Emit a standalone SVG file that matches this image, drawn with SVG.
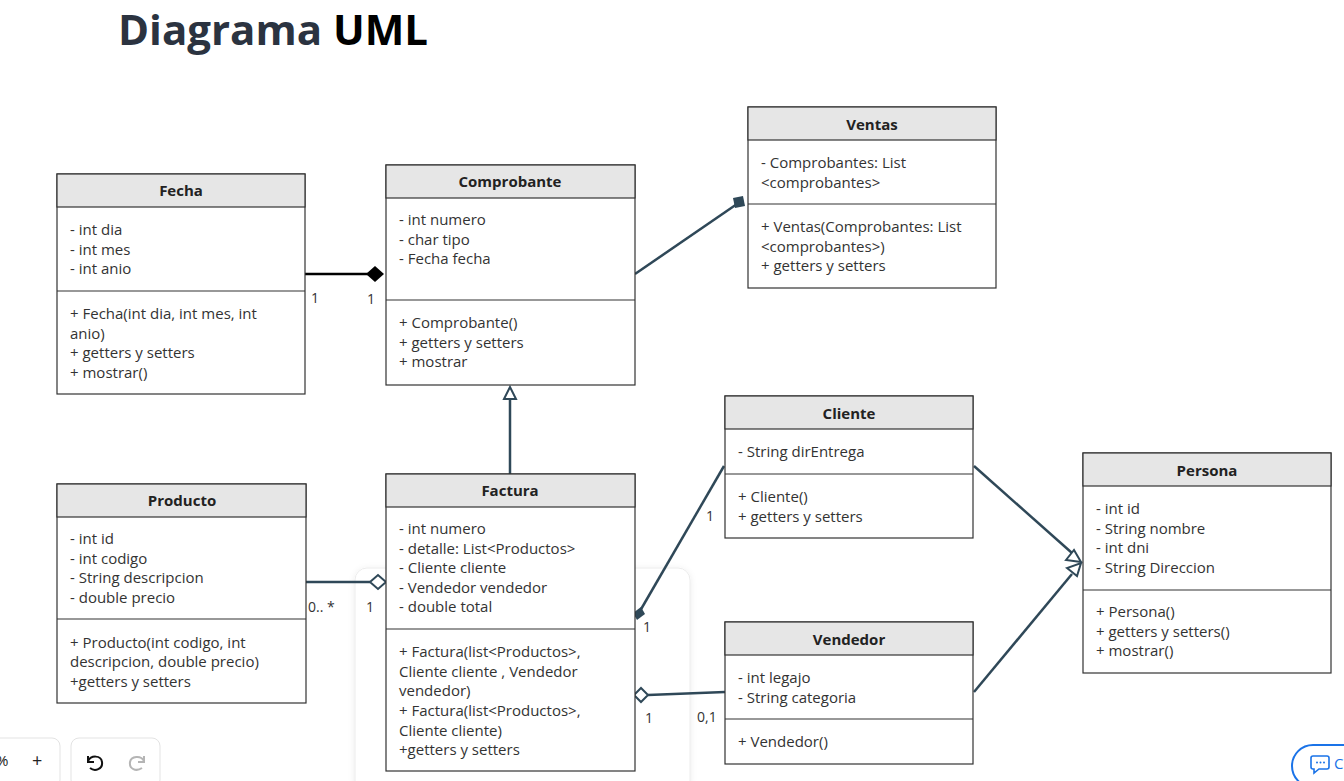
<svg xmlns="http://www.w3.org/2000/svg" width="1344" height="781" viewBox="0 0 1344 781">
<defs>
<style>
.box{fill:#fff;stroke:#333;stroke-width:1.2}
.hdr{fill:#e6e6e6;stroke:#333;stroke-width:1.2}
.ttl{font-family:"Open Sans",sans-serif;font-weight:bold;font-size:15px;fill:#222;text-anchor:middle}
.t{font-family:"Open Sans",sans-serif;font-size:15px;fill:#333}
.lbl{font-family:"Open Sans",sans-serif;font-size:14px;fill:#333}
.c{stroke:#2f4858;stroke-width:2.5;fill:none}
.ui{fill:#fff;stroke:#e3e3e3;stroke-width:1}
</style>
<filter id="sh" x="-10%" y="-10%" width="120%" height="120%">
<feDropShadow dx="0" dy="1" stdDeviation="3" flood-color="#000" flood-opacity="0.08"/>
</filter>
</defs>
<rect width="1344" height="781" fill="#fff"/>
<text x="118" y="45" font-family="'Open Sans',sans-serif" font-weight="bold" font-size="42" fill="#2b3340">Diagrama <tspan fill="#000">UML</tspan></text>

<rect x="355" y="568" width="335" height="225" rx="12" fill="#fff" stroke="#ececec" filter="url(#sh)"/>

<g id="connectors">
<line x1="305" y1="274" x2="368" y2="274" stroke="#000" stroke-width="2.5"/>
<polygon points="366,274 375,266 384,274 375,282" fill="#000"/>
<text class="lbl" x="311" y="303">1</text>
<text class="lbl" x="367" y="304">1</text>

<line class="c" x1="635" y1="274" x2="737" y2="204"/>
<polygon points="733,198 743,196 745,206 735,208" fill="#2f4858"/>

<line class="c" x1="510" y1="474" x2="510" y2="399"/>
<polygon points="504,399 510,387 516,399" fill="#fff" stroke="#2f4858" stroke-width="2"/>

<line class="c" x1="306" y1="582" x2="370" y2="582"/>
<polygon points="370,582 378,575 386,582 378,589" fill="#fff" stroke="#2f4858" stroke-width="2"/>
<text class="lbl" x="308" y="612">0.. *</text>
<text class="lbl" x="366" y="612">1</text>

<line class="c" x1="724" y1="466" x2="640" y2="611"/>
<polygon points="633,613 641,607 645,614 637,620" fill="#2f4858"/>
<text class="lbl" x="706" y="521">1</text>
<text class="lbl" x="643" y="632">1</text>

<line class="c" x1="648" y1="695" x2="725" y2="692"/>
<polygon points="634,695 641,688 648,695 641,702" fill="#fff" stroke="#2f4858" stroke-width="2"/>
<text class="lbl" x="645" y="723">1</text>
<text class="lbl" x="697" y="722">0,1</text>

<line class="c" x1="974" y1="466" x2="1072" y2="553"/>
<polygon points="1066,560 1074,550 1081,562" fill="#fff" stroke="#2f4858" stroke-width="2"/>
<line class="c" x1="974" y1="692" x2="1072" y2="574"/>
<polygon points="1067,568 1077,576 1081,563" fill="#fff" stroke="#2f4858" stroke-width="2"/>
</g>

<g id="fecha">
<rect class="box" x="57" y="174" width="248" height="220"/>
<rect class="hdr" x="57" y="174" width="248" height="33"/>
<line stroke="#333" stroke-width="1.2" x1="57" y1="291" x2="305" y2="291"/>
<text class="ttl" x="181" y="196">Fecha</text>
<text class="t" x="70" y="235">- int dia</text>
<text class="t" x="70" y="255">- int mes</text>
<text class="t" x="70" y="274">- int anio</text>
<text class="t" x="70" y="319">+ Fecha(int dia, int mes, int</text>
<text class="t" x="70" y="339">anio)</text>
<text class="t" x="70" y="358">+ getters y setters</text>
<text class="t" x="70" y="378">+ mostrar()</text>
</g>

<g id="comprobante">
<rect class="box" x="386" y="165" width="249" height="220"/>
<rect class="hdr" x="386" y="165" width="249" height="33"/>
<line stroke="#333" stroke-width="1.2" x1="386" y1="300" x2="635" y2="300"/>
<text class="ttl" x="510" y="187">Comprobante</text>
<text class="t" x="399" y="225">- int numero</text>
<text class="t" x="399" y="245">- char tipo</text>
<text class="t" x="399" y="264">- Fecha fecha</text>
<text class="t" x="399" y="328">+ Comprobante()</text>
<text class="t" x="399" y="348">+ getters y setters</text>
<text class="t" x="399" y="367">+ mostrar</text>
</g>

<g id="ventas">
<rect class="box" x="748" y="107" width="248" height="181"/>
<rect class="hdr" x="748" y="107" width="248" height="33"/>
<line stroke="#333" stroke-width="1.2" x1="748" y1="204" x2="996" y2="204"/>
<text class="ttl" x="872" y="130">Ventas</text>
<text class="t" x="761" y="168">- Comprobantes: List</text>
<text class="t" x="761" y="188">&lt;comprobantes&gt;</text>
<text class="t" x="761" y="232">+ Ventas(Comprobantes: List</text>
<text class="t" x="761" y="252">&lt;comprobantes&gt;)</text>
<text class="t" x="761" y="271">+ getters y setters</text>
</g>

<g id="producto">
<rect class="box" x="57" y="484" width="249" height="219"/>
<rect class="hdr" x="57" y="484" width="249" height="33"/>
<line stroke="#333" stroke-width="1.2" x1="57" y1="619" x2="306" y2="619"/>
<text class="ttl" x="182" y="506">Producto</text>
<text class="t" x="70" y="544">- int id</text>
<text class="t" x="70" y="564">- int codigo</text>
<text class="t" x="70" y="583">- String descripcion</text>
<text class="t" x="70" y="603">- double precio</text>
<text class="t" x="70" y="648">+ Producto(int codigo, int</text>
<text class="t" x="70" y="667">descripcion, double precio)</text>
<text class="t" x="70" y="687">+getters y setters</text>
</g>

<g id="factura">
<rect class="box" x="386" y="474" width="249" height="297"/>
<rect class="hdr" x="386" y="474" width="249" height="33"/>
<line stroke="#333" stroke-width="1.2" x1="386" y1="629" x2="635" y2="629"/>
<text class="ttl" x="510" y="496">Factura</text>
<text class="t" x="399" y="534">- int numero</text>
<text class="t" x="399" y="554">- detalle: List&lt;Productos&gt;</text>
<text class="t" x="399" y="573">- Cliente cliente</text>
<text class="t" x="399" y="593">- Vendedor vendedor</text>
<text class="t" x="399" y="612">- double total</text>
<text class="t" x="399" y="657">+ Factura(list&lt;Productos&gt;,</text>
<text class="t" x="399" y="677">Cliente cliente , Vendedor</text>
<text class="t" x="399" y="696">vendedor)</text>
<text class="t" x="399" y="716">+ Factura(list&lt;Productos&gt;,</text>
<text class="t" x="399" y="736">Cliente cliente)</text>
<text class="t" x="399" y="755">+getters y setters</text>
</g>

<g id="cliente">
<rect class="box" x="725" y="396" width="248" height="142"/>
<rect class="hdr" x="725" y="396" width="248" height="33"/>
<line stroke="#333" stroke-width="1.2" x1="725" y1="474" x2="973" y2="474"/>
<text class="ttl" x="849" y="419">Cliente</text>
<text class="t" x="738" y="457">- String dirEntrega</text>
<text class="t" x="738" y="502">+ Cliente()</text>
<text class="t" x="738" y="522">+ getters y setters</text>
</g>

<g id="vendedor">
<rect class="box" x="725" y="622" width="248" height="142"/>
<rect class="hdr" x="725" y="622" width="248" height="33"/>
<line stroke="#333" stroke-width="1.2" x1="725" y1="719" x2="973" y2="719"/>
<text class="ttl" x="849" y="645">Vendedor</text>
<text class="t" x="738" y="683">- int legajo</text>
<text class="t" x="738" y="703">- String categoria</text>
<text class="t" x="738" y="747">+ Vendedor()</text>
</g>

<g id="persona">
<rect class="box" x="1083" y="453" width="248" height="220"/>
<rect class="hdr" x="1083" y="453" width="248" height="33"/>
<line stroke="#333" stroke-width="1.2" x1="1083" y1="590" x2="1331" y2="590"/>
<text class="ttl" x="1207" y="476">Persona</text>
<text class="t" x="1096" y="514">- int id</text>
<text class="t" x="1096" y="534">- String nombre</text>
<text class="t" x="1096" y="553">- int dni</text>
<text class="t" x="1096" y="573">- String Direccion</text>
<text class="t" x="1096" y="617">+ Persona()</text>
<text class="t" x="1096" y="637">+ getters y setters()</text>
<text class="t" x="1096" y="656">+ mostrar()</text>
</g>

<g id="toolbar">
<rect class="ui" x="-20" y="738" width="80" height="50" rx="8"/>
<text x="-4" y="766" font-family="'Open Sans',sans-serif" font-size="15" fill="#222">%</text>
<text x="32" y="767" font-family="'Open Sans',sans-serif" font-size="18" fill="#222">+</text>
<rect class="ui" x="71" y="738" width="89" height="50" rx="8"/>
<path d="M88,756 L88,762 L94,762 M88,761 C91,755 101,755 102,762 C103,769 95,772 90,768" fill="none" stroke="#111" stroke-width="2"/>
<path d="M144,756 L144,762 L138,762 M144,761 C141,755 131,756 130,762 C129,769 136,772 142,768" fill="none" stroke="#b5b5b5" stroke-width="2"/>
<rect x="1292" y="745" width="80" height="42" rx="21" fill="#fff" stroke="#1a73e8" stroke-width="2"/>
<path d="M1313,756 h14 a2,2 0 0 1 2,2 v9 a2,2 0 0 1 -2,2 h-8 l-5,4 v-4 h-1 a2,2 0 0 1 -2,-2 v-9 a2,2 0 0 1 2,-2 z" fill="none" stroke="#1a73e8" stroke-width="1.6"/>
<circle cx="1317" cy="762.5" r="1" fill="#1a73e8"/>
<circle cx="1320.5" cy="762.5" r="1" fill="#1a73e8"/>
<circle cx="1324" cy="762.5" r="1" fill="#1a73e8"/>
<text x="1334" y="769" font-family="'Open Sans',sans-serif" font-size="15" fill="#1a73e8">C</text>
</g>
</svg>
